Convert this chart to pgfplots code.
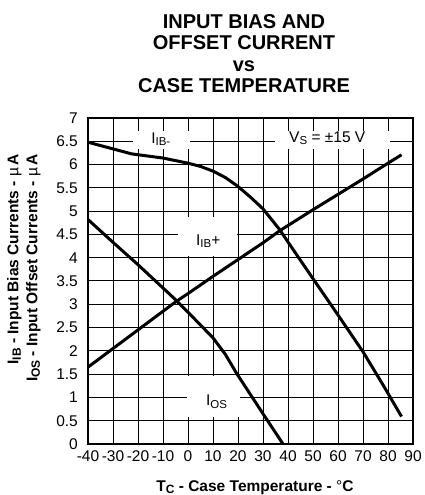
\documentclass[border=0pt]{standalone}
\usepackage{fontspec}
\setmainfont{Liberation Sans}
\usepackage{pgfplots}
\pgfplotsset{compat=1.18}
\newcommand{\sub}[1]{\raisebox{-0.3ex}{\fontsize{11.5}{11.5}\selectfont #1}}
\newcommand{\bsub}[1]{\raisebox{-0.3ex}{\fontsize{12}{12}\selectfont #1}}
\begin{document}
\begin{tikzpicture}
\begin{axis}[
  scale only axis, width=325pt, height=326pt,
  xmin=-40, xmax=90, ymin=0, ymax=7,
  xtick={-40,-30,...,90}, ytick={0,0.5,...,7},
  xticklabels={-40,-30,-20,-10,0,10,20,30,40,50,60,70,80,90},
  yticklabels={0,0.5,1,1.5,2,2.5,3,3.5,4,4.5,5,5.5,6,6.5,7},
  tick label style={font=\fontsize{15.5}{17}\selectfont},
  xticklabel style={inner sep=0pt, yshift=-6pt},
  yticklabel style={inner sep=0pt, xshift=-10pt},
  major tick length=0pt,
  grid=major, major grid style={black, line width=1pt},
  axis line style={line width=1.8pt},
  clip=false,
]
\fill[white] (axis cs:-22,6.34) rectangle (axis cs:0.7,6.73);
\fill[white] (axis cs:34.7,6.34) rectangle (axis cs:80.7,6.73);
\fill[white] (axis cs:-4,4.04) rectangle (axis cs:19.4,4.87);
\fill[white] (axis cs:-0.5,0.59) rectangle (axis cs:20.7,1.45);
\node[font=\fontsize{15.5}{17}\selectfont] at (axis cs:-10.9,6.55) {I\sub{IB-}};
\node[font=\fontsize{15.5}{17}\selectfont] at (axis cs:55.7,6.57) {V\sub{S} = ±15 V};
\node[font=\fontsize{15.5}{17}\selectfont] at (axis cs:8.1,4.36) {I\sub{IB}+};
\node[font=\fontsize{15.5}{17}\selectfont] at (axis cs:11.4,0.91) {I\sub{OS}};
\addplot[black, line width=3pt] coordinates {
(-40,6.48) (-22.6,6.23) (-10,6.14) (0,6.03) (5,5.96) (10,5.86) (15,5.72) (20,5.53) (25,5.30) (30,5.05) (36.7,4.6) (43,4.1) (50,3.55) (60,2.77) (70,1.98) (78,1.27) (85.4,0.59)};
\addplot[black, line width=3pt] coordinates {
(-40,1.65) (-30,2.05) (-20,2.45) (-10,2.85) (-5,3.05) (0,3.23) (10,3.6) (20,3.96) (30,4.32) (36.7,4.58) (50,5.03) (60,5.36) (70,5.69) (80,6.03) (85.4,6.21)};
\addplot[black, line width=3pt] coordinates {
(-40,4.82) (-30,4.33) (-20,3.85) (-10,3.35) (-5,3.1) (0,2.83) (10,2.28) (15,1.92) (19.4,1.52) (30,0.65) (38,0)};
\end{axis}
\node[anchor=north, align=center, font=\bfseries\fontsize{20}{21.5}\selectfont, inner sep=0pt]
  at ([shift={(156pt,430pt)}]current axis.south west)
  {INPUT BIAS AND\\OFFSET CURRENT\\vs\\CASE TEMPERATURE};
\node[anchor=base, font=\bfseries\fontsize{15.5}{17}\selectfont, inner sep=0pt]
  at ([shift={(167pt,-47pt)}]current axis.south west)
  {T\bsub{C} - Case Temperature - \mdseries °\bfseries C};
\node[rotate=90, anchor=north east, align=right, font=\bfseries\fontsize{15.5}{19}\selectfont, inner sep=0pt]
  at ([shift={(-81pt,290pt)}]current axis.south west)
  {I\bsub{IB} - Input Bias Currents - \mdseries µ\,\bfseries A\\I\bsub{OS} - Input Offset Currents - \mdseries µ\,\bfseries A};
\pgfresetboundingbox
\path[use as bounding box] ([shift={(-88pt,-51pt)}]current axis.south west) rectangle ([shift={(12pt,118pt)}]current axis.north east);
\end{tikzpicture}
\end{document}
